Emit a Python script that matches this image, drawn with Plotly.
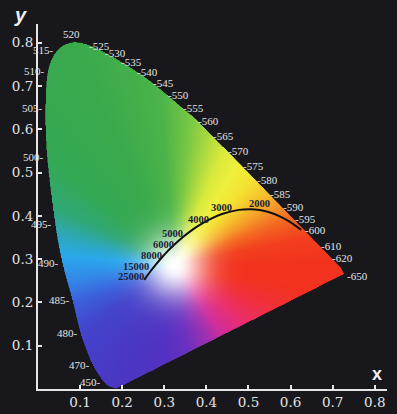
import base64
import struct
import zlib

import numpy as np
import plotly.graph_objects as go

# ---------------- data ----------------
# spectral locus (wavelength in nm, chromaticity x, y)
wavelengths = [420, 440, 450, 460, 470, 475, 480, 485, 490, 495, 500, 505, 510, 515,
               520, 525, 530, 535, 540, 545, 550, 555, 560, 565, 570, 575, 580, 585,
               590, 595, 600, 605, 610, 620, 630, 640, 650]
locus_x = [0.186, 0.168, 0.157, 0.145, 0.130, 0.117, 0.101, 0.082, 0.058, 0.041, 0.022,
           0.018, 0.024, 0.046, 0.080, 0.115, 0.152, 0.190, 0.228, 0.265, 0.301, 0.337,
           0.373, 0.4087, 0.4441, 0.4788, 0.5125, 0.5448, 0.5752, 0.6029, 0.6270,
           0.6482, 0.6658, 0.6915, 0.7079, 0.7180, 0.7270]
locus_y = [0.001, 0.007, 0.016, 0.032, 0.056, 0.086, 0.130, 0.205, 0.292, 0.382, 0.535,
           0.648, 0.735, 0.782, 0.800, 0.796, 0.780, 0.760, 0.737, 0.712, 0.684, 0.654,
           0.6245, 0.5896, 0.5547, 0.5202, 0.4866, 0.4544, 0.4242, 0.3965, 0.3725,
           0.3514, 0.3340, 0.3083, 0.2920, 0.2810, 0.2660]
labeled_wavelengths = [450, 470, 480, 485, 490, 495, 500, 505, 510, 515, 520, 525, 530,
                       535, 540, 545, 550, 555, 560, 565, 570, 575, 580, 585, 590, 595,
                       600, 610, 620, 650]

# Planckian (black-body) locus, colour temperature in K
planck_T = [1200, 1400, 1600, 1800, 2000, 2200, 2500, 3000, 3500, 4000, 4500, 5000,
            6000, 7000, 8000, 10000, 15000, 25000]
planck_x = [0.6251, 0.5985, 0.5732, 0.5493, 0.5267, 0.5056, 0.4770, 0.4369, 0.4053,
            0.3805, 0.3608, 0.3451, 0.3221, 0.3064, 0.2952, 0.2807, 0.2637, 0.2525]
planck_y = [0.3674, 0.3858, 0.3993, 0.4082, 0.4133, 0.4152, 0.4137, 0.4041, 0.3907,
            0.3768, 0.3636, 0.3516, 0.3318, 0.3166, 0.3048, 0.2884, 0.2673, 0.2522]
planck_labels = [2000, 3000, 4000, 5000, 6000, 8000, 15000, 25000]

x_ticks = [0.1, 0.2, 0.3, 0.4, 0.5, 0.6, 0.7, 0.8]
y_ticks = [0.1, 0.2, 0.3, 0.4, 0.5, 0.6, 0.7, 0.8]

# ---------------- styling ----------------
BG = "#18181c"
AXIS = "#e6e6e6"
white_point = (0.325, 0.285)
# hue stops around the white point (angle in degrees, colour)
hue_stops = [
    (0, "#f2321e"), (12, "#f2401e"), (22, "#f46a22"), (30, "#f59a28"), (38, "#f6c22e"),
    (47, "#f4e232"), (57, "#f0f03c"), (67, "#d8ea3c"), (76, "#a8d840"), (84, "#78c844"),
    (95, "#4cb44a"), (115, "#3aaa4c"), (140, "#34a854"), (155, "#30a878"),
    (165, "#2ea8b8"), (175, "#2aa8ec"), (188, "#3488e8"), (200, "#3c60dc"),
    (215, "#4444cc"), (240, "#4a38c4"), (262, "#5232c2"), (278, "#6a30c0"),
    (295, "#a030b0"), (305, "#d02c9c"), (320, "#e82e72"), (335, "#f03042"),
    (350, "#f2321e"), (360, "#f2321e"),
]
# per-label vertical nudges (pixels) for the crowded colour-temperature labels
planck_label_shift = {5000: 3, 6000: 1, 8000: 2, 15000: 7, 25000: 3}


def catmull(px, py, n=14):
    P = np.column_stack([px, py]).astype(float)
    P = np.vstack([2 * P[0] - P[1], P, 2 * P[-1] - P[-2]])
    out = []
    t = np.linspace(0, 1, n, endpoint=False)[:, None]
    for i in range(1, len(P) - 2):
        p0, p1, p2, p3 = P[i - 1], P[i], P[i + 1], P[i + 2]
        seg = 0.5 * ((2 * p1) + (-p0 + p2) * t + (2 * p0 - 5 * p1 + 4 * p2 - p3) * t ** 2
                     + (-p0 + 3 * p1 - 3 * p2 + p3) * t ** 3)
        out.append(seg)
    out.append(P[-2][None, :])
    return np.vstack(out)


def png_data_uri(rgba):
    h, w, _ = rgba.shape
    raw = b"".join(b"\x00" + rgba[i].tobytes() for i in range(h))

    def chunk(tag, data):
        c = struct.pack(">I", len(data)) + tag + data
        return c + struct.pack(">I", zlib.crc32(tag + data) & 0xFFFFFFFF)

    ihdr = struct.pack(">IIBBBBB", w, h, 8, 6, 0, 0, 0)
    png = (b"\x89PNG\r\n\x1a\n" + chunk(b"IHDR", ihdr)
           + chunk(b"IDAT", zlib.compress(raw, 9)) + chunk(b"IEND", b""))
    return "data:image/png;base64," + base64.b64encode(png).decode()


# ---------------- colour fill of the horseshoe ----------------
poly = catmull(locus_x, locus_y)
res = 0.00125
IX0, IX1, IY0, IY1 = 0.0, 0.76, 0.0, 0.82
nx = int(round((IX1 - IX0) / res))
ny = int(round((IY1 - IY0) / res))
xs = IX0 + (np.arange(nx) + 0.5) * res
ys = IY1 - (np.arange(ny) + 0.5) * res
gx, gy = np.meshgrid(xs, ys)

inside = np.zeros(gx.shape, dtype=bool)
vx, vy = poly[:, 0], poly[:, 1]
j = len(vx) - 1
for i in range(len(vx)):
    xi, yi, xj, yj = vx[i], vy[i], vx[j], vy[j]
    if yi != yj:
        cond = (yi > gy) != (yj > gy)
        xint = (xj - xi) * (gy - yi) / (yj - yi) + xi
        inside ^= cond & (gx < xint)
    j = i

ang = np.degrees(np.arctan2(gy - white_point[1], gx - white_point[0])) % 360
r = np.hypot(gx - white_point[0], gy - white_point[1])
mix = 1 - np.exp(-(r / 0.075) ** 2)
stop_a = np.array([s[0] for s in hue_stops], float)
stop_c = np.array([[int(s[1][k:k + 2], 16) for k in (1, 3, 5)] for s in hue_stops], float)
rgba = np.zeros((ny, nx, 4), dtype=np.uint8)
for c in range(3):
    hue = np.interp(ang, stop_a, stop_c[:, c])
    val = 255 * (1 - mix) + hue * mix
    rgba[..., c] = np.clip(val, 0, 255).astype(np.uint8)
rgba[..., 3] = np.where(inside, 255, 0).astype(np.uint8)

# ---------------- figure ----------------
fig = go.Figure()
fig.add_trace(go.Scatter(x=planck_x, y=planck_y, mode="lines",
                         line=dict(color="#101010", width=2, shape="spline"),
                         hoverinfo="skip", showlegend=False))

fig.add_layout_image(dict(source=png_data_uri(rgba), xref="x", yref="y", x=IX0, y=IY1,
                          sizex=IX1 - IX0, sizey=IY1 - IY0, sizing="stretch",
                          xanchor="left", yanchor="top", layer="below"))

annotations = []
wl_font = dict(family="Liberation Serif", size=11, color="#e4e4e4")
for w in labeled_wavelengths:
    k = wavelengths.index(w)
    x, y = locus_x[k], locus_y[k]
    if w < 518:
        annotations.append(dict(x=x, y=y, text=f"{w}-", xanchor="right", yanchor="middle",
                                xshift=-1, showarrow=False, font=wl_font))
    elif w == 520:
        annotations.append(dict(x=x, y=y, text=f"{w}", xanchor="center", yanchor="bottom",
                                yshift=1, showarrow=False, font=wl_font))
    else:
        annotations.append(dict(x=x, y=y, text=f"-{w}", xanchor="left", yanchor="middle",
                                xshift=1, yshift=-2, showarrow=False, font=wl_font))

t_font = dict(family="Liberation Serif", size=10.5, color="#1c1c38")
for T in planck_labels:
    k = planck_T.index(T)
    x, y = planck_x[k], planck_y[k]
    if T <= 4000:
        annotations.append(dict(x=x, y=y, text=f"<b>{T}</b>", xanchor="center",
                                yanchor="bottom", yshift=-1, showarrow=False, font=t_font))
    else:
        annotations.append(dict(x=x, y=y, text=f"<b>{T}</b>", xanchor="right",
                                yanchor="middle", xshift=2, yshift=planck_label_shift[T],
                                showarrow=False, font=t_font))

annotations.append(dict(xref="paper", yref="paper", x=-0.049, y=1.025, text="<b><i>y</i></b>",
                        showarrow=False, xanchor="center", yanchor="middle",
                        font=dict(family="Liberation Sans", size=20, color="#f0f0f0")))
annotations.append(dict(xref="paper", yref="paper", x=0.971, y=0.041, text="<b>x</b>",
                        showarrow=False, xanchor="center", yanchor="middle",
                        font=dict(family="Liberation Sans", size=18, color="#f0f0f0")))

tick_font = dict(family="DejaVu Serif", size=13.5, color="#e4e4e4")
common_axis = dict(ticks="inside", ticklen=4, tickwidth=1.5, tickcolor=AXIS,
                   showline=True, linecolor=AXIS, linewidth=2, showgrid=False,
                   zeroline=False, tickfont=tick_font, fixedrange=True, automargin=False)
fig.update_layout(
    width=397, height=414,
    margin=dict(l=38, r=10, t=24, b=25, autoexpand=False),
    paper_bgcolor=BG, plot_bgcolor=BG,
    showlegend=False,
    annotations=annotations,
    xaxis=dict(range=[0, 0.829], tickvals=x_ticks, ticktext=[f"{v:.1f}" for v in x_ticks],
               **common_axis),
    yaxis=dict(range=[0, 0.843], tickvals=y_ticks, ticktext=[f"{v:.1f}" for v in y_ticks],
               **common_axis),
)

fig.write_html(
    "out.html",
    config={"displayModeBar": False},
    post_script="document.body.style.margin='0';document.body.style.background='%s';" % BG,
)
